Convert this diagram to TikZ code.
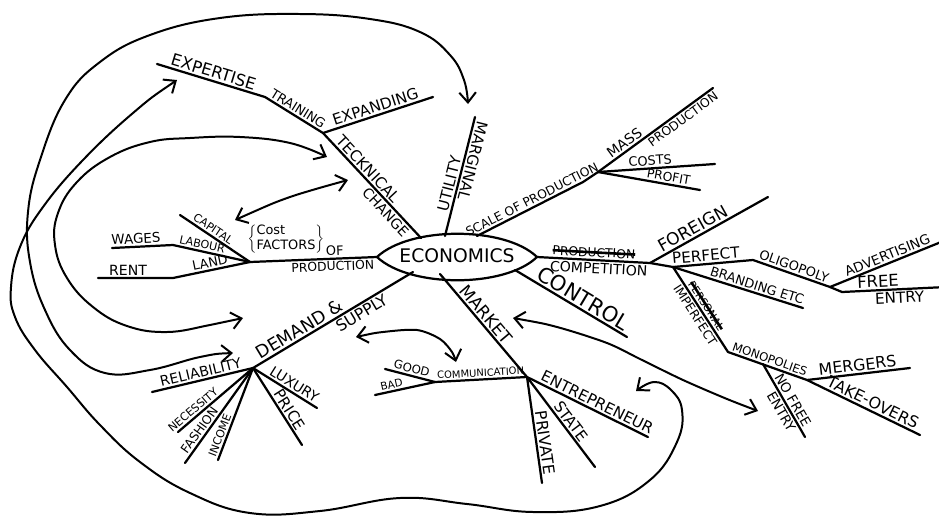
\documentclass[tikz,border=0pt]{standalone}
\usepackage{fontspec}
\setmainfont{DejaVu Sans}
\usetikzlibrary{arrows.meta}
\newcommand{\crossout}[1]{\leavevmode\setbox0\hbox{#1}\rlap{\copy0}\rule[0.27em]{\wd0}{2.2pt}}

\begin{document}
\begin{tikzpicture}[x=0.03cm,y=-0.03cm,
  branch/.style={line width=1.9pt,line cap=round,line join=round},
  link/.style={line width=1.7pt,line cap=round,
    {Straight Barb[length=3mm,width=5mm]}-{Straight Barb[length=3mm,width=5mm]}},
  lbl/.style={font=\fontsize{#1}{#1}\selectfont,sloped,inner sep=1.5pt},
  lbl/.default=12
]
  \useasboundingbox (0,0) rectangle (939,521);

  % Centre
  \coordinate (econ-l) at (377,257);
  \coordinate (econ-r) at (537,257);
  \node[font=\fontsize{16}{16}\selectfont] (econ) at (457,256) {ECONOMICS};
  \draw[branch] (econ-l) .. controls (410,226) and (505,226) .. (econ-r)
    .. controls (505,288) and (410,288) .. (econ-l);

  % Technical change
  \coordinate (econ-tech) at (421,238);
  \coordinate (tech) at (323,133);
  \coordinate (train) at (265,97);
  \coordinate (expert) at (157,64);
  \coordinate (expand) at (433,97);
  \draw[branch] (tech) -- (econ-tech)
    node[lbl=13,above,pos=.4] (lbl-teck) {TECKNICAL}
    node[lbl=12,below,pos=.7] (lbl-change) {CHANGE};
  \draw[branch] (expert) -- (train) node[lbl=14,above,midway] (lbl-exp) {EXPERTISE}
    -- (tech) node[lbl=11,above,midway] (lbl-train) {TRAINING};
  \draw[branch] (tech) -- (expand) node[lbl=13,above,midway] (lbl-expand) {EXPANDING};

  % Marginal utility
  \coordinate (econ-mu) at (445,236);
  \coordinate (mu) at (475,117);
  \draw[branch] (mu) -- (econ-mu)
    node[lbl=13,above,allow upside down,pos=.35] (lbl-marg) {MARGINAL}
    node[lbl=13,above,pos=.58] (lbl-util) {UTILITY};

  % Scale of production
  \coordinate (econ-sc) at (477,236);
  \coordinate (scb) at (583,182);
  \coordinate (scale) at (598,172);
  \coordinate (mass) at (713,88);
  \coordinate (costs) at (715,164);
  \coordinate (profit) at (700,190);
  \draw[branch] (econ-sc) -- (scb)
    node[lbl=10.5,above,pos=.55] (lbl-scale) {SCALE OF PRODUCTION} -- (scale);
  \draw[branch] (scale) -- (mass)
    node[lbl=12,above,pos=.27] (lbl-mass) {MASS}
    node[lbl=10.5,below,pos=.7] (lbl-mprod) {PRODUCTION};
  \draw[branch] (scale) -- (costs) node[lbl=11,above,pos=.45] (lbl-costs) {COSTS};
  \draw[branch] (scale) -- (profit) node[lbl=10.5,above,pos=.68] (lbl-profit) {PROFIT};

  % Competition
  \coordinate (comp) at (650,263);
  \coordinate (hub) at (673,267);
  \coordinate (foreign) at (768,197);
  \coordinate (perf) at (753,260);
  \coordinate (oligo) at (830,287);
  \coordinate (advert) at (946,240);
  \coordinate (fe) at (842,292);
  \coordinate (free) at (946,287);
  \coordinate (brand) at (803,308);
  \draw[branch] (econ-r) -- (comp)
    node[lbl=10.5,above,midway] (lbl-struck) {\crossout{PRODUCTION}}
    node[lbl=12,below,pos=.55] (lbl-comp) {COMPETITION} -- (hub);
  \draw[branch] (comp) -- (foreign) node[lbl=14.5,above,pos=.4] (lbl-foreign) {FOREIGN};
  \draw[branch] (hub) -- (perf) node[lbl=13,above,pos=.42] (lbl-perf) {PERFECT}
    -- (oligo) node[lbl=11,above,midway] (lbl-oligo) {OLIGOPOLY};
  \draw[branch] (oligo) -- (advert) node[lbl=11.5,above,pos=.52] (lbl-advert) {ADVERTISING};
  \draw[branch] (oligo) -- (fe) -- (free)
    node[lbl=14,above,pos=.35] (lbl-free) {FREE}
    node[lbl=13,below,pos=.55] (lbl-fentry) {ENTRY};
  \draw[branch] (hub) -- (brand) node[lbl=11,above,pos=.63] (lbl-brand) {BRANDING ETC};

  % Imperfect
  \coordinate (imperf) at (728,352);
  \coordinate (mon) at (807,380);
  \coordinate (take) at (920,435);
  \coordinate (merg) at (910,368);
  \coordinate (nfj) at (763,364);
  \coordinate (nofree) at (805,437);
  \draw[branch] (hub) -- (imperf)
    node[lbl=10.5,below,pos=.52] (lbl-imperf) {IMPERFECT}
    node[lbl=9,above,pos=.5] (lbl-struck2) {\crossout{PERSONAL}};
  \draw[branch] (imperf) -- (mon) node[lbl=10,above,midway] (lbl-mon) {MONOPOLIES}
    -- (take) node[lbl=13.5,above,pos=.55] (lbl-take) {TAKE-OVERS};
  \draw[branch] (mon) -- (merg) node[lbl=13.5,above,midway] (lbl-merg) {MERGERS};
  \draw[branch] (nfj) -- (nofree)
    node[lbl=11.5,above,pos=.55] (lbl-nofree) {NO FREE}
    node[lbl=11.5,below,pos=.6] (lbl-nentry) {ENTRY};

  % Control
  \coordinate (econ-ctl) at (515,270);
  \coordinate (ctl) at (627,337);
  \draw[branch] (econ-ctl) -- (ctl) node[lbl=18,above,pos=.56] (lbl-ctl) {CONTROL};

  % Market
  \coordinate (econ-mkt) at (440,274);
  \coordinate (mkt) at (527,377);
  \coordinate (comm) at (435,382);
  \coordinate (bad) at (375,395);
  \coordinate (good) at (385,369);
  \coordinate (entr) at (648,437);
  \coordinate (state) at (595,467);
  \coordinate (priv) at (542,483);
  \draw[branch] (econ-mkt) -- (mkt) node[lbl=14.5,above,pos=.45] (lbl-mkt) {MARKET};
  \draw[branch] (mkt) -- (comm) node[lbl=8.5,above,midway] (lbl-comm) {COMMUNICATION}
    -- (bad) node[lbl=9,above,pos=.7] (lbl-bad) {BAD};
  \draw[branch] (comm) -- (good) node[lbl=10,above,midway] (lbl-good) {GOOD};
  \draw[branch] (mkt) -- (entr) node[lbl=13,above,pos=.55] (lbl-entr) {ENTREPRENEUR};
  \draw[branch] (mkt) -- (state) node[lbl=13,above,pos=.55] (lbl-state) {STATE};
  \draw[branch] (mkt) -- (priv) node[lbl=13.5,above,pos=.63] (lbl-priv) {PRIVATE};

  % Factors of production
  \coordinate (fac) at (250,262);
  \coordinate (cap) at (180,215);
  \coordinate (lab) at (173,245);
  \coordinate (wages) at (112,248);
  \coordinate (land) at (173,278);
  \coordinate (rent) at (98,278);
  \draw[branch] (econ-l) -- (fac)
    node[lbl=11,above,pos=.33] (lbl-of) {OF}
    node[lbl=10.5,below,pos=.35] (lbl-fprod) {PRODUCTION};
  \node[font=\fontsize{11}{13}\selectfont] (costfac) at (286,239)
    {$\left\{\begin{tabular}{@{}l@{}}Cost\\FACTORS\end{tabular}\right\}$};
  \draw[branch] (fac) -- (cap) node[lbl=9.5,above,pos=.58] (lbl-cap) {CAPITAL};
  \draw[branch] (fac) -- (lab) node[lbl=9.5,above,pos=.64] (lbl-lab) {LABOUR}
    -- (wages) node[lbl=11.5,above,pos=.6] (lbl-wages) {WAGES};
  \draw[branch] (fac) -- (land) node[lbl=11,above,midway] (lbl-land) {LAND}
    -- (rent) node[lbl=12,above,pos=.6] (lbl-rent) {RENT};

  % Demand & supply
  \coordinate (econ-dem) at (413,272);
  \coordinate (dem) at (253,368);
  \coordinate (rel) at (152,392);
  \coordinate (nec) at (178,432);
  \coordinate (fash) at (185,463);
  \coordinate (inc) at (218,460);
  \coordinate (lux) at (317,408);
  \coordinate (price) at (302,445);
  \draw[branch] (econ-dem) -- (dem)
    node[lbl=15,above,pos=.68] (lbl-dem) {DEMAND \&}
    node[lbl=13.5,below,pos=.35] (lbl-sup) {SUPPLY};
  \draw[branch] (dem) -- (rel) node[lbl=12,above,midway] (lbl-rel) {RELIABILITY};
  \draw[branch] (dem) -- (nec) node[lbl=9.5,above,pos=.74] (lbl-nec) {NECESSITY};
  \draw[branch] (dem) -- (fash) node[lbl=10.5,above,pos=.7] (lbl-fash) {FASHION};
  \draw[branch] (dem) -- (inc) node[lbl=9.5,above,pos=.76] (lbl-inc) {INCOME};
  \draw[branch] (dem) -- (lux) node[lbl=12,above,pos=.58] (lbl-lux) {LUXURY};
  \draw[branch] (dem) -- (price) node[lbl=13,above,pos=.6] (lbl-price) {PRICE};

  % Links
  \coordinate (a-rel) at (233,353);
  \coordinate (a-mu) at (468,104);
  \coordinate (a-exp) at (177,80);
  \coordinate (a-ent) at (636,391);
  \coordinate (a-tech) at (327,157);
  \coordinate (a-dem) at (243,318);
  \coordinate (a-cap) at (235,220);
  \coordinate (a-tech2) at (348,180);
  \coordinate (a-sup) at (356,337);
  \coordinate (a-good) at (456,362);
  \coordinate (a-mkt) at (513,318);
  \coordinate (a-nfe) at (758,411);
  \draw[link] plot[smooth,tension=.7] coordinates {(a-rel) (200,357) (150,370) (105,373)
    (70,350) (45,310) (30,262) (28,212) (40,160) (65,100) (100,62) (150,35) (220,18)
    (300,14) (370,19) (420,32) (450,55) (464,80) (a-mu)};
  \draw[link] plot[smooth,tension=.7] coordinates {(a-exp) (133,113) (83,160) (43,207)
    (20,247) (11,287) (15,317) (35,350) (67,387) (100,425) (140,462) (190,493) (250,513)
    (320,511) (400,498) (467,504) (533,512) (600,506) (650,480) (677,442) (682,410)
    (671,390) (654,382) (a-ent)};
  \draw[link] plot[smooth,tension=.7] coordinates {(a-dem) (210,325) (167,332) (127,326)
    (93,307) (67,278) (55,245) (58,213) (77,182) (110,157) (150,142) (190,138) (240,137)
    (290,143) (a-tech)};
  \draw[link] plot[smooth] coordinates {(a-cap) (290,197) (a-tech2)};
  \draw[link] plot[smooth] coordinates {(a-sup) (383,332) (417,330) (440,339) (452,352) (a-good)};
  \draw[link] plot[smooth] coordinates {(a-mkt) (557,327) (607,343) (640,359) (683,380)
    (727,399) (a-nfe)};
\end{tikzpicture}
\end{document}
